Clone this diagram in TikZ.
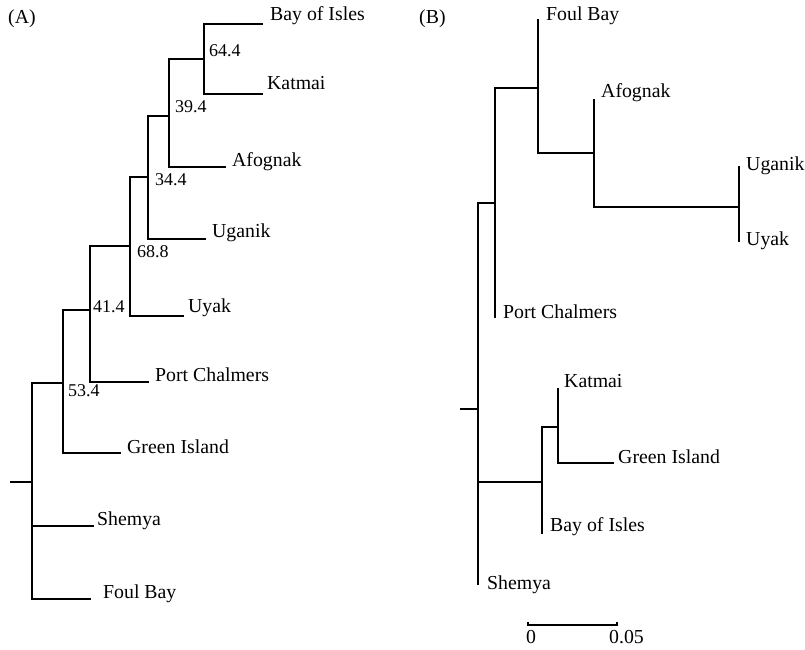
\documentclass[tikz,border=0pt]{standalone}
\usepackage{fontspec}
\setmainfont{Liberation Serif}
\begin{document}
\begin{tikzpicture}[x=1pt,y=-1pt,
  branch/.style={line width=1.2pt, line cap=rect},
  leaflabel/.style={anchor=base west, inner sep=0pt, font=\fontsize{19.8}{22}\selectfont},
  boot/.style={anchor=west, inner sep=0pt, font=\fontsize{18}{20}\selectfont},
  panel/.style={anchor=base west, inner sep=0pt, font=\fontsize{19.8}{22}\selectfont}]
\useasboundingbox (0,0) rectangle (805,649);

% ---------------- Tree A ----------------
\coordinate (stubA) at (11,482);
\coordinate (rootA) at (32,482);
\coordinate (a53) at (63,383);
\coordinate (a41) at (90,310);
\coordinate (a68) at (130,246);
\coordinate (a34) at (148,177);
\coordinate (a39) at (169,116);
\coordinate (a64) at (204,59);
\coordinate (tBayA) at (262,24);
\coordinate (tKatA) at (262,94);
\coordinate (tAfoA) at (225,167);
\coordinate (tUgaA) at (205,239);
\coordinate (tUyaA) at (183,316);
\coordinate (tPorA) at (148,382);
\coordinate (tGreA) at (120,453);
\coordinate (tSheA) at (93,526);
\coordinate (tFouA) at (90,599);

\draw[branch] (tBayA) -| (a64) |- (tKatA);
\draw[branch] (a64) -| (a39) |- (tAfoA);
\draw[branch] (a39) -| (a34) |- (tUgaA);
\draw[branch] (a34) -| (a68) |- (tUyaA);
\draw[branch] (a68) -| (a41) |- (tPorA);
\draw[branch] (a41) -| (a53) |- (tGreA);
\draw[branch] (a53) -| (rootA) |- (tFouA);
\draw[branch] (tSheA) -- (tSheA -| rootA);
\draw[branch] (stubA) -- (rootA);

\node[panel] (labA) at (8,23) {(A)};
\node[leaflabel] (lBayA) at (270,20) {Bay of Isles};
\node[leaflabel] (lKatA) at (267,89) {Katmai};
\node[leaflabel] (lAfoA) at (232,166) {Afognak};
\node[leaflabel] (lUgaA) at (212,237) {Uganik};
\node[leaflabel] (lUyaA) at (188,312) {Uyak};
\node[leaflabel] (lPorA) at (155,381) {Port Chalmers};
\node[leaflabel] (lGreA) at (127,453) {Green Island};
\node[leaflabel] (lSheA) at (97,525) {Shemya};
\node[leaflabel] (lFouA) at (103,598) {Foul Bay};

\node[boot] (b64) at (209,51) {64.4};
\node[boot] (b39) at (175,107) {39.4};
\node[boot] (b34) at (155,180) {34.4};
\node[boot] (b68) at (137,252) {68.8};
\node[boot] (b41) at (93,307) {41.4};
\node[boot] (b53) at (68,391) {53.4};

% ---------------- Tree B ----------------
\coordinate (stubB) at (461,409);
\coordinate (rootB) at (478,409);
\coordinate (b1) at (495,203);
\coordinate (b3) at (538,88);
\coordinate (b4) at (594,153);
\coordinate (b5) at (739,207);
\coordinate (b2) at (542,482);
\coordinate (b6) at (558,427);
\coordinate (tFouB) at (538,20);
\coordinate (tAfoB) at (594,100);
\coordinate (tUgaB) at (739,167);
\coordinate (tUyaB) at (739,241);
\coordinate (tPorB) at (495,317);
\coordinate (tKatB) at (558,389);
\coordinate (tGreB) at (613,463);
\coordinate (tBayB) at (542,533);
\coordinate (tSheB) at (478,584);

\draw[branch] (tUgaB) -| (b5) |- (tUyaB);
\draw[branch] (tAfoB) -| (b4) |- (b5);
\draw[branch] (tFouB) -| (b3) |- (b4);
\draw[branch] (b3) -| (b1) |- (tPorB);
\draw[branch] (tKatB) -| (b6) |- (tGreB);
\draw[branch] (b6) -| (b2) |- (tBayB);
\draw[branch] (b1) -| (rootB) |- (tSheB);
\draw[branch] (b2) -- (b2 -| rootB);
\draw[branch] (stubB) -- (rootB);

\node[panel] (labB) at (419,23) {(B)};
\node[leaflabel] (lFouB) at (546,20) {Foul Bay};
\node[leaflabel] (lAfoB) at (601,97) {Afognak};
\node[leaflabel] (lUgaB) at (746,170) {Uganik};
\node[leaflabel] (lUyaB) at (746,245) {Uyak};
\node[leaflabel] (lPorB) at (503,318) {Port Chalmers};
\node[leaflabel] (lKatB) at (564,387) {Katmai};
\node[leaflabel] (lGreB) at (618,463) {Green Island};
\node[leaflabel] (lBayB) at (550,531) {Bay of Isles};
\node[leaflabel] (lSheB) at (487,589) {Shemya};

% scale bar
\coordinate (sb0) at (528,625);
\coordinate (sb1) at (617,625);
\draw[line width=1.2pt] ([yshift=3pt]sb0) -- (sb0) -- (sb1) -- ([yshift=3pt]sb1);
\node[leaflabel, anchor=base] (s0) at (531,643) {0};
\node[leaflabel, anchor=base west] (s5) at (609,643) {0.05};
\end{tikzpicture}
\end{document}
